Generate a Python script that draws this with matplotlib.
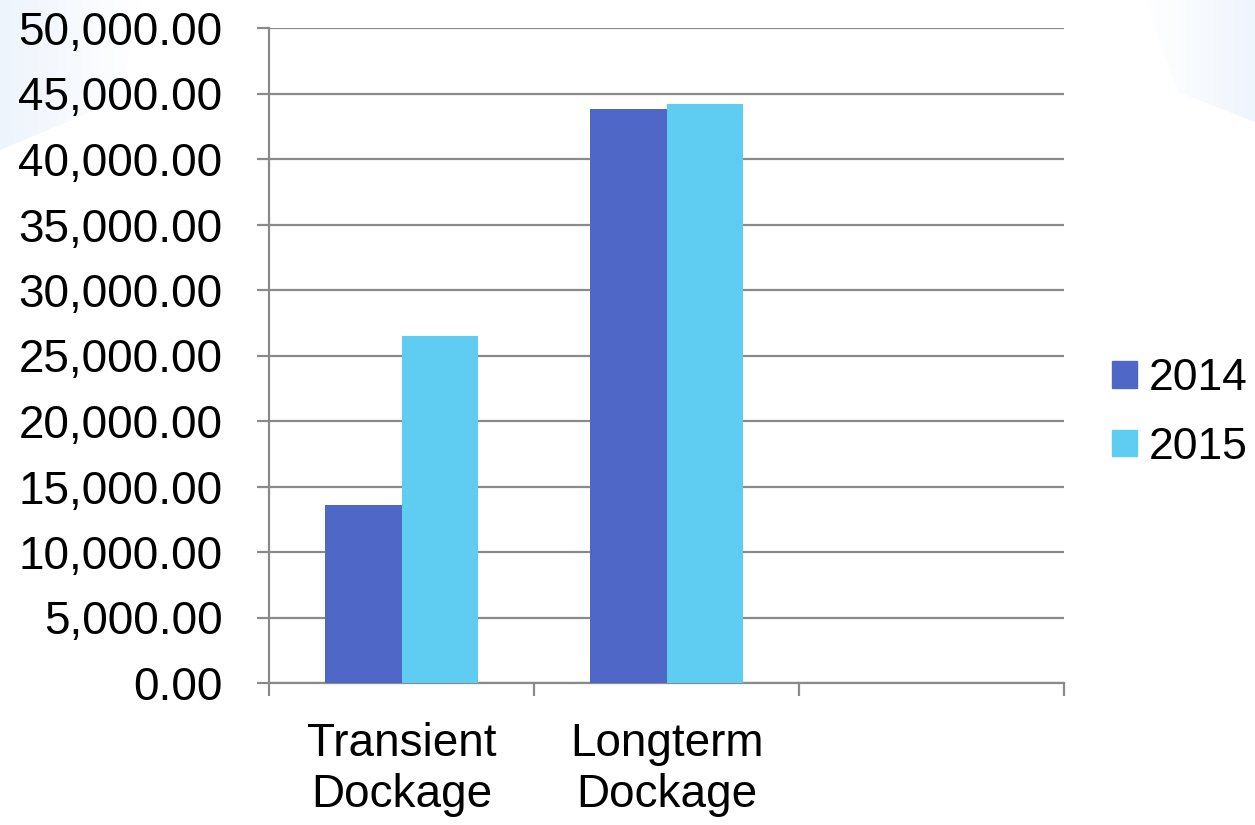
import matplotlib
matplotlib.use("Agg")
import matplotlib.pyplot as plt
import numpy as np
from matplotlib.patches import Polygon, Patch
from matplotlib.ticker import FuncFormatter
from matplotlib.colors import LinearSegmentedColormap

categories = ["Transient\nDockage", "Longterm\nDockage", ""]
series_names = ["2014", "2015"]
values_2014 = [13600, 43800, np.nan]
values_2015 = [26500, 44200, np.nan]
y_ticks = [0, 5000, 10000, 15000, 20000, 25000, 30000, 35000, 40000, 45000, 50000]

colors = ["#4F67C7", "#5FCDF2"]
grid_col = "#8A8A8A"

plt.rcParams['font.family'] = ['Liberation Sans', 'DejaVu Sans']
FS = 33

fig = plt.figure(figsize=(12.55, 8.25), dpi=100)

# faint background corner gradients
bg = fig.add_axes([0, 0, 1, 1], zorder=-10)
bg.set_xlim(0, 1255); bg.set_ylim(825, 0); bg.axis("off")
xx = np.linspace(0, 1, 256)
grad = np.tile(xx, (8, 1))
cm_r = LinearSegmentedColormap.from_list("r", ["#FFFFFF", "#EFF5FD"])
cm_l = LinearSegmentedColormap.from_list("l", ["#EEF4FC", "#FFFFFF"])
im1 = bg.imshow(grad, extent=[1145, 1255, 130, 0], cmap=cm_r, aspect="auto", zorder=0)
p1 = Polygon([[1145, 0], [1255, 0], [1255, 122], [1178, 92]], closed=True, transform=bg.transData)
im1.set_clip_path(p1)
im2 = bg.imshow(grad, extent=[0, 140, 170, 0], cmap=cm_l, aspect="auto", zorder=0)
p2 = Polygon([[0, 0], [140, 0], [120, 100], [0, 150]], closed=True, transform=bg.transData)
im2.set_clip_path(p2)

ax = fig.add_axes([269 / 1255, 1 - 683 / 825, (1064 - 269) / 1255, (683 - 28) / 825])
ax.set_facecolor("none")

x = np.arange(len(categories))
w = 0.287
ax.bar(x - w / 2, values_2014, width=w, color=colors[0], zorder=3, label=series_names[0])
ax.bar(x + w / 2, values_2015, width=w, color=colors[1], zorder=3, label=series_names[1])

ax.set_xlim(-0.5, 2.5)
ax.set_ylim(0, 50000)
ax.set_yticks(y_ticks)
ax.yaxis.set_major_formatter(FuncFormatter(lambda v, p: f"{v:,.2f}"))
ax.grid(axis="y", color=grid_col, linewidth=1.6, zorder=0)
ax.set_axisbelow(True)

ax.set_xticks([-0.5, 0.5, 1.5, 2.5])
ax.set_xticklabels([])
ax.set_xticks(x, minor=True)
ax.set_xticklabels(categories, minor=True, fontsize=FS, linespacing=1.2)
ax.tick_params(axis="x", which="minor", length=0, pad=28)
ax.tick_params(axis="x", which="major", length=9.4, width=1.6, color=grid_col)
ax.tick_params(axis="y", length=8.6, width=1.6, color=grid_col, labelsize=FS, pad=25)

for s in ["top", "right"]:
    ax.spines[s].set_visible(False)
for s in ["left", "bottom"]:
    ax.spines[s].set_color(grid_col)
    ax.spines[s].set_linewidth(1.6)

handles = [Patch(color=colors[0], label=series_names[0]), Patch(color=colors[1], label=series_names[1])]
fig.legend(handles=handles, loc="center left", bbox_to_anchor=(1112 / 1255, 1 - 413 / 825),
           frameon=False, fontsize=32, handlelength=0.57, handleheight=0.55, handletextpad=0.26,
           labelspacing=0.62, borderpad=0, borderaxespad=0)

fig.savefig("out.png", dpi=100)
